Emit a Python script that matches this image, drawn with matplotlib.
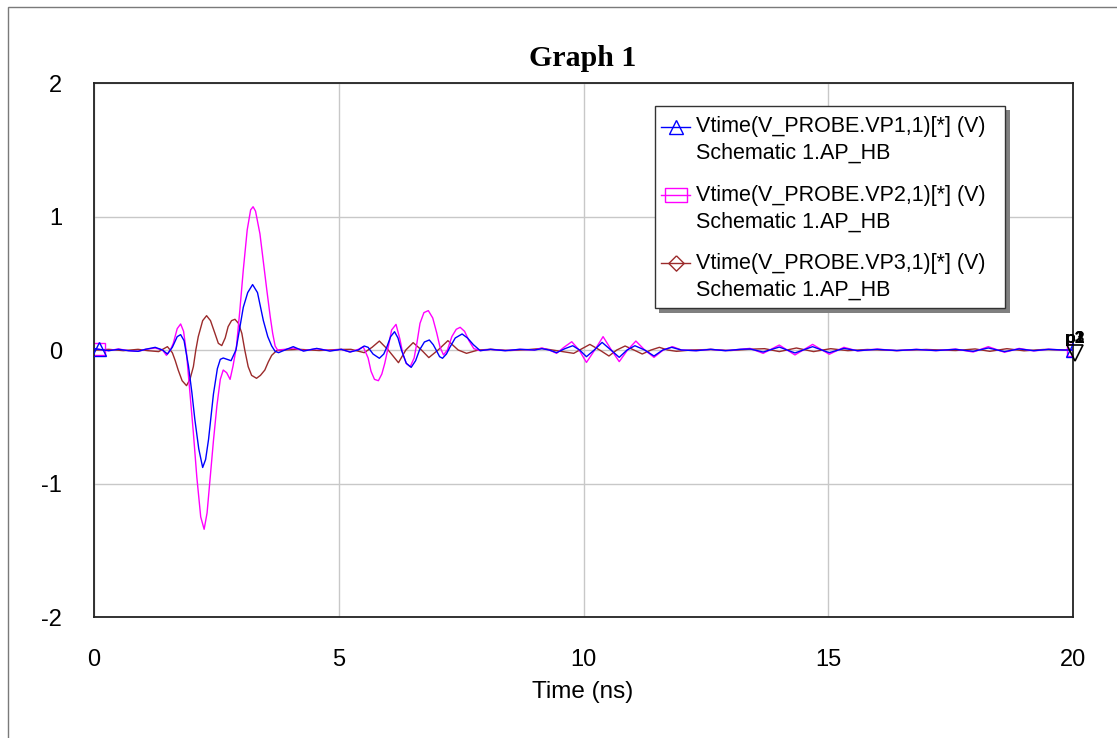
import matplotlib
matplotlib.use("Agg")
import matplotlib.pyplot as plt
from matplotlib.lines import Line2D
from matplotlib.patches import Rectangle
import matplotlib.transforms as mtransforms

plt.rcParams['font.family'] = ['Liberation Sans', 'DejaVu Sans']
plt.rcParams['axes.unicode_minus'] = False

# ---------------- data (time in ns, voltage in V) ----------------
VP1_POINTS = [
    (0.00, 0.01), (0.10, 0.005), (0.30, -0.005), (0.50, 0.005), (0.70, -0.005), (0.90, -0.01),
    (1.05, 0.005), (1.25, 0.02), (1.40, 0.0), (1.50, -0.03), (1.60, 0.02), (1.70, 0.10),
    (1.77, 0.115), (1.84, 0.07), (1.93, -0.12), (2.00, -0.32), (2.06, -0.52), (2.14, -0.74),
    (2.22, -0.88), (2.28, -0.82), (2.34, -0.67), (2.44, -0.33), (2.52, -0.14), (2.58, -0.07),
    (2.64, -0.06), (2.72, -0.07), (2.80, -0.08), (2.90, 0.0), (2.98, 0.17), (3.05, 0.32),
    (3.14, 0.43), (3.24, 0.49), (3.34, 0.43), (3.46, 0.22), (3.55, 0.10), (3.63, 0.03),
    (3.70, -0.01), (3.77, -0.02), (3.90, 0.0), (4.07, 0.025), (4.28, -0.008), (4.55, 0.012),
    (4.82, -0.008), (5.05, 0.005), (5.23, -0.015), (5.40, 0.0), (5.52, 0.03), (5.60, 0.02),
    (5.70, -0.03), (5.83, -0.062), (5.92, -0.03), (5.98, 0.02), (6.06, 0.10), (6.14, 0.137),
    (6.21, 0.09), (6.28, 0.0), (6.38, -0.10), (6.48, -0.13), (6.57, -0.08), (6.65, 0.0),
    (6.75, 0.06), (6.85, 0.075), (6.93, 0.04), (6.99, 0.0), (7.06, -0.05), (7.12, -0.062),
    (7.20, -0.03), (7.27, 0.02), (7.38, 0.09), (7.52, 0.12), (7.63, 0.09), (7.75, 0.04),
    (7.89, -0.005), (8.10, 0.005), (8.40, -0.005), (8.70, 0.005), (9.00, 0.0), (9.15, 0.01),
    (9.30, 0.0), (9.45, -0.02), (9.62, 0.01), (9.78, 0.032), (9.92, 0.0), (10.06, -0.05),
    (10.22, 0.0), (10.38, 0.057), (10.56, 0.0), (10.73, -0.055), (10.89, 0.0), (11.05, 0.032),
    (11.25, 0.0), (11.44, -0.045), (11.62, 0.0), (11.80, 0.02), (12.00, 0.0), (12.30, -0.005),
    (12.60, 0.005), (12.90, -0.005), (13.20, 0.005), (13.40, 0.008), (13.67, -0.015),
    (14.00, 0.022), (14.32, -0.022), (14.68, 0.025), (15.02, -0.02), (15.32, 0.012),
    (15.60, -0.005), (16.00, 0.005), (16.40, -0.004), (16.80, 0.004), (17.20, -0.004),
    (17.60, 0.005), (17.96, -0.01), (18.27, 0.015), (18.60, -0.012), (18.90, 0.008),
    (19.20, -0.005), (19.50, 0.005), (19.80, 0.0), (20.00, 0.0),
]

VP2_POINTS = [
    (0.00, 0.01), (0.10, 0.005), (0.30, -0.005), (0.50, 0.008), (0.70, -0.005), (0.90, -0.01),
    (1.05, 0.005), (1.25, 0.015), (1.40, 0.0), (1.48, -0.04), (1.56, 0.0), (1.62, 0.05),
    (1.70, 0.16), (1.77, 0.195), (1.83, 0.14), (1.89, -0.025), (1.96, -0.32), (2.03, -0.62),
    (2.10, -0.95), (2.18, -1.25), (2.25, -1.343), (2.31, -1.22), (2.37, -0.97), (2.44, -0.68),
    (2.51, -0.42), (2.58, -0.22), (2.64, -0.15), (2.71, -0.17), (2.78, -0.22), (2.84, -0.12),
    (2.91, 0.025), (2.98, 0.30), (3.05, 0.60), (3.13, 0.90), (3.20, 1.05), (3.25, 1.073),
    (3.30, 1.04), (3.39, 0.87), (3.46, 0.66), (3.53, 0.45), (3.60, 0.25), (3.65, 0.125),
    (3.70, 0.03), (3.75, 0.0), (3.90, 0.005), (4.07, 0.015), (4.28, -0.005), (4.55, 0.01),
    (4.82, -0.005), (5.05, 0.005), (5.23, -0.015), (5.40, 0.005), (5.50, 0.025), (5.60, -0.06),
    (5.66, -0.16), (5.73, -0.22), (5.81, -0.23), (5.88, -0.18), (5.94, -0.10), (6.01, 0.02),
    (6.08, 0.15), (6.17, 0.192), (6.25, 0.08), (6.31, -0.03), (6.38, -0.10), (6.46, -0.125),
    (6.54, -0.06), (6.60, 0.06), (6.66, 0.20), (6.74, 0.28), (6.83, 0.295), (6.92, 0.24),
    (7.00, 0.13), (7.07, 0.02), (7.14, -0.037), (7.22, 0.0), (7.31, 0.10), (7.40, 0.155),
    (7.48, 0.17), (7.57, 0.14), (7.66, 0.07), (7.76, 0.01), (7.89, -0.005), (8.10, 0.005),
    (8.40, -0.005), (8.70, 0.005), (9.00, 0.0), (9.15, 0.015), (9.30, 0.0), (9.45, -0.025),
    (9.60, 0.02), (9.76, 0.062), (9.91, 0.0), (10.06, -0.093), (10.23, 0.0), (10.40, 0.10),
    (10.57, 0.0), (10.73, -0.087), (10.90, 0.0), (11.07, 0.067), (11.25, 0.0), (11.44, -0.055),
    (11.63, 0.0), (11.82, 0.025), (12.00, 0.0), (12.30, -0.005), (12.60, 0.005), (12.90, -0.005),
    (13.20, 0.005), (13.40, 0.012), (13.67, -0.025), (14.00, 0.037), (14.32, -0.037),
    (14.68, 0.042), (15.02, -0.032), (15.32, 0.02), (15.60, -0.007), (16.00, 0.007),
    (16.40, -0.005), (16.80, 0.005), (17.20, -0.005), (17.60, 0.007), (17.96, -0.015),
    (18.27, 0.025), (18.60, -0.017), (18.90, 0.012), (19.20, -0.007), (19.50, 0.006),
    (19.80, 0.0), (20.00, 0.0),
]

VP3_POINTS = [
    (0.00, 0.0), (0.10, 0.0), (0.30, 0.005), (0.60, -0.005), (0.90, 0.005), (1.10, -0.005),
    (1.32, -0.012), (1.50, 0.025), (1.60, -0.02), (1.66, -0.08), (1.72, -0.15), (1.80, -0.23),
    (1.89, -0.267), (1.96, -0.22), (2.03, -0.125), (2.08, 0.0), (2.13, 0.10), (2.22, 0.22),
    (2.30, 0.257), (2.38, 0.22), (2.47, 0.125), (2.54, 0.05), (2.61, 0.033), (2.68, 0.09),
    (2.74, 0.175), (2.81, 0.22), (2.88, 0.23), (2.95, 0.20), (3.02, 0.125), (3.08, 0.0),
    (3.15, -0.125), (3.22, -0.19), (3.32, -0.212), (3.40, -0.19), (3.49, -0.15), (3.56, -0.09),
    (3.63, -0.04), (3.73, -0.005), (3.90, 0.0), (4.20, 0.005), (4.60, -0.004), (5.00, 0.004),
    (5.25, 0.005), (5.52, -0.02), (5.68, 0.02), (5.83, 0.067), (6.01, 0.0), (6.22, -0.095),
    (6.37, 0.0), (6.52, 0.055), (6.69, 0.0), (6.84, -0.057), (7.03, 0.0), (7.23, 0.07),
    (7.44, 0.0), (7.61, -0.025), (7.85, 0.0), (8.10, 0.005), (8.50, -0.004), (8.90, 0.004),
    (9.15, 0.012), (9.45, -0.005), (9.80, -0.025), (9.97, 0.01), (10.13, 0.042), (10.33, 0.0),
    (10.52, -0.045), (10.68, 0.0), (10.85, 0.03), (11.03, 0.0), (11.20, -0.03), (11.38, 0.0),
    (11.55, 0.02), (11.72, 0.0), (11.90, -0.01), (12.20, 0.0), (12.60, 0.004), (13.00, -0.004),
    (13.40, 0.006), (13.70, 0.01), (14.00, -0.012), (14.35, 0.015), (14.70, -0.012),
    (15.05, 0.01), (15.40, -0.005), (15.80, 0.004), (16.40, -0.004), (17.00, 0.004),
    (17.60, -0.004), (18.00, 0.008), (18.30, -0.01), (18.65, 0.01), (19.00, -0.006),
    (19.40, 0.004), (19.80, 0.0), (20.00, 0.0),
]

SERIES_LABELS = [
    "Vtime(V_PROBE.VP1,1)[*] (V)",
    "Vtime(V_PROBE.VP2,1)[*] (V)",
    "Vtime(V_PROBE.VP3,1)[*] (V)",
]
SOURCE_LABEL = "Schematic 1.AP_HB"
X_TICKS = [0, 5, 10, 15, 20]
X_TICK_LABELS = ["0", "5", "10", "15", "20"]
Y_TICKS = [-2, -1, 0, 1, 2]
Y_TICK_LABELS = ["-2", "-1", "0", "1", "2"]
MARKER_TIMES = [0.10, 20.00]
PROBE_MARKER = (20.0, 0.0)
PROBE_NAMES = ["p1", "p2", "p3"]
TITLE = "Graph 1"
XLABEL = "Time (ns)"

# ---------------- styling ----------------
BLUE = "#0000ff"
MAGENTA = "#ff00ff"
BROWN = "#9b2b2b"
RECT_MARKER = [(-1.5, -1), (1.5, -1), (1.5, 1), (-1.5, 1), (-1.5, -1)]
DIAMOND_MARKER = [(0, 1), (1, 0), (0, -1), (-1, 0), (0, 1)]

W, H = 1117, 738
fig = plt.figure(figsize=(W / 100, H / 100), dpi=100)
fig.patch.set_facecolor("white")


def fx(x):
    return x / W


def fy(y):
    return 1 - y / H


# outer frame (only left/top visible in the crop)
fig.patches.append(Rectangle((fx(8), fy(760)), fx(1200), (760 - 7) / H,
                             transform=fig.transFigure, fill=False,
                             ec="#7a7a7a", lw=1.0, zorder=0))

ax = fig.add_axes([fx(94), fy(617), (1073 - 94) / W, (617 - 83) / H])

series = [
    (VP3_POINTS, BROWN, None, 9, 1),
    (VP2_POINTS, MAGENTA, "s", 9.3, 2),
    (VP1_POINTS, BLUE, "^", 10, 3),
]
for pts, color, mk, ms, z in series:
    t = [p[0] for p in pts]
    v = [p[1] for p in pts]
    idx = [i for i, tt in enumerate(t) if tt in MARKER_TIMES]
    if mk is None:
        ax.plot(t, v, color=color, lw=1.0, zorder=z)
    else:
        ax.plot(t, v, color=color, lw=1.0, zorder=z, marker=mk, markevery=idx,
                ms=ms, mfc="none", mec=color, mew=1.0)

ax.set_xlim(0, 20)
ax.set_ylim(-2, 2)
ax.set_xticks(X_TICKS)
ax.set_xticklabels(X_TICK_LABELS)
ax.set_yticks(Y_TICKS)
ax.set_yticklabels(Y_TICK_LABELS)
ax.tick_params(length=0, labelsize=17, pad=23)
ax.grid(True, color="#c8c8c8", lw=1.0)
ax.set_axisbelow(True)
for s in ax.spines.values():
    s.set_color("#222222")
    s.set_linewidth(1.3)

# probe marker at the end of the trace
off = mtransforms.ScaledTranslation(2 / 100, -3 / 100, fig.dpi_scale_trans)
ax.plot([PROBE_MARKER[0]], [PROBE_MARKER[1]], marker="v", ms=11, mfc="none",
        mec="black", mew=1.2, clip_on=False, transform=ax.transData + off, zorder=5)
toff = mtransforms.ScaledTranslation(2 / 100, 4 / 100, fig.dpi_scale_trans)
for name in PROBE_NAMES:
    ax.text(PROBE_MARKER[0], PROBE_MARKER[1], name, ha="center", va="bottom",
            fontsize=12.5, fontweight="bold", transform=ax.transData + toff,
            clip_on=False, zorder=6)

# title & axis label
fig.text(fx(583), fy(58), TITLE, ha="center", va="center",
         family=["Liberation Serif", "DejaVu Serif"], fontweight="bold", fontsize=21.5)
fig.text(fx(583), fy(692), XLABEL, ha="center", va="center", fontsize=17.5)

# legend (drawn manually to match the original box)
fig.patches.append(Rectangle((fx(659), fy(313)), 351 / W, (313 - 110) / H,
                             transform=fig.transFigure, fc="#808080", ec="none", zorder=7))
fig.patches.append(Rectangle((fx(655), fy(308)), 350 / W, (308 - 106) / H,
                             transform=fig.transFigure, fc="white", ec="#333333",
                             lw=1.0, zorder=8))
leg_colors = [BLUE, MAGENTA, BROWN]
leg_markers = ["^", RECT_MARKER, DIAMOND_MARKER]
leg_ms = [10.5, 15.6, 11]
row_y = [126.7, 195.0, 263.3]
for lbl, c, mk, ms, y in zip(SERIES_LABELS, leg_colors, leg_markers, leg_ms, row_y):
    fig.add_artist(Line2D([fx(661), fx(690)], [fy(y), fy(y)], color=c, lw=1.0,
                          transform=fig.transFigure, zorder=9))
    fig.add_artist(Line2D([fx(675.5)], [fy(y)], color=c, marker=mk, ms=ms, mfc="none",
                          mec=c, mew=1.0, transform=fig.transFigure, zorder=9))
    fig.text(fx(696), fy(y), lbl, ha="left", va="center", fontsize=15.5, zorder=10)
    fig.text(fx(696), fy(y + 26.7), SOURCE_LABEL, ha="left", va="center",
             fontsize=15.5, zorder=10)

fig.savefig("out.png", dpi=100, facecolor="white")
